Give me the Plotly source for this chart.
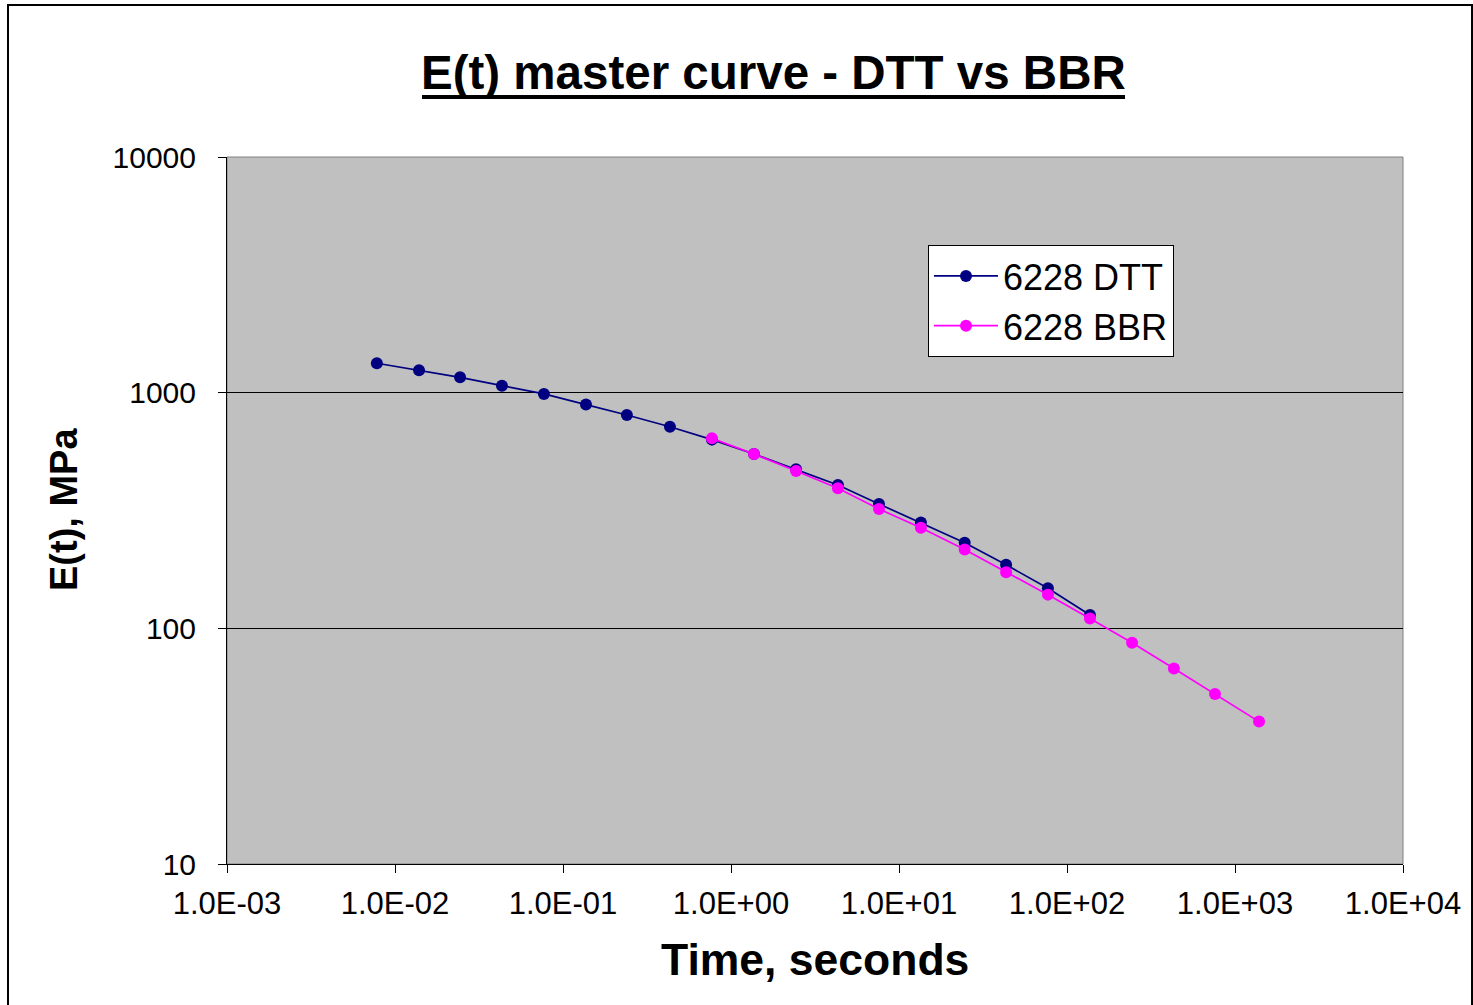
import plotly.graph_objects as go

# Data
dtt_time = [0.0078, 0.0139, 0.0244, 0.0433, 0.077, 0.137, 0.240, 0.433, 0.77,
            1.37, 2.44, 4.33, 7.6, 13.5, 24.6, 43.4, 77, 137]
dtt_E = [1333, 1245, 1162, 1071, 988, 890, 804, 717, 632,
         549, 473, 406, 337, 281, 231, 186, 148, 114]

bbr_time = [0.77, 1.37, 2.44, 4.33, 7.6, 13.5, 24.6, 43.4, 77, 137,
            244, 433, 760, 1390]
bbr_E = [640, 549, 465, 393, 321, 267, 216, 173, 139, 110,
         86.9, 67.6, 52.6, 40.2]

x_tickvals = [1e-3, 1e-2, 1e-1, 1e0, 1e1, 1e2, 1e3, 1e4]
x_ticktext = ["1.0E-03", "1.0E-02", "1.0E-01", "1.0E+00", "1.0E+01",
              "1.0E+02", "1.0E+03", "1.0E+04"]
y_tickvals = [10, 100, 1000, 10000]
y_ticktext = ["10", "100", "1000", "10000"]

FONT = "Liberation Sans, Arial, sans-serif"

fig = go.Figure()
fig.add_trace(go.Scatter(
    x=dtt_time, y=dtt_E, name="6228 DTT", mode="lines+markers",
    line=dict(color="#000080", width=1.7),
    marker=dict(color="#000080", size=12)))
fig.add_trace(go.Scatter(
    x=bbr_time, y=bbr_E, name="6228 BBR", mode="lines+markers",
    line=dict(color="#FF00FF", width=1.7),
    marker=dict(color="#FF00FF", size=12)))

W, H = 1473, 1005
L, R, T, B = 227, 70, 157, 141
pw, ph = W - L - R, H - T - B


def px(x):
    return (x - L) / pw


def py(y):
    return (H - B - y) / ph


fig.update_layout(
    width=W, height=H,
    margin=dict(l=L, r=R, t=T, b=B, pad=0),
    paper_bgcolor="white",
    plot_bgcolor="#C0C0C0",
    font=dict(family=FONT, color="black"),
    showlegend=True,
    legend=dict(
        x=px(928), y=py(245), xanchor="left", yanchor="top",
        bgcolor="white", bordercolor="black", borderwidth=1,
        font=dict(size=36, family=FONT),
        itemwidth=64, tracegroupgap=0,
    ),
    xaxis=dict(
        type="log", range=[-3, 4],
        tickmode="array", tickvals=x_tickvals, ticktext=x_ticktext,
        ticks="outside", ticklen=8, tickcolor="black", tickwidth=1,
        tickfont=dict(size=31, family=FONT),
        showline=True, linecolor="black", linewidth=1,
        showgrid=False, zeroline=False, ticklabelstandoff=4,
    ),
    yaxis=dict(
        type="log", range=[1, 4],
        tickmode="array", tickvals=y_tickvals, ticktext=y_ticktext,
        ticks="outside", ticklen=8, tickcolor="black", tickwidth=1,
        tickfont=dict(size=30, family=FONT),
        showline=True, linecolor="black", linewidth=1,
        showgrid=True, gridcolor="black", gridwidth=1, zeroline=False,
        ticklabelstandoff=16,
    ),
    shapes=[
        # plot area border (gray)
        dict(type="rect", xref="paper", yref="paper", x0=0, y0=0, x1=1, y1=1,
             line=dict(color="#808080", width=1), layer="below"),
        # outer chart border
        dict(type="rect", xref="paper", yref="paper",
             x0=px(8), x1=px(1472), y0=py(1012), y1=py(5),
             line=dict(color="black", width=2)),
        # title underline
        dict(type="line", xref="paper", yref="paper",
             x0=px(422), x1=px(1125), y0=py(97), y1=py(97),
             line=dict(color="black", width=4)),
    ],
    annotations=[
        dict(text="<b>E(t) master curve - DTT vs BBR</b>", xref="paper", yref="paper",
             x=px(773.5), y=py(73), xanchor="center", yanchor="middle",
             showarrow=False, font=dict(size=47.5, family=FONT)),
        dict(text="<b>Time, seconds</b>", xref="paper", yref="paper",
             x=px(815), y=py(959), xanchor="center", yanchor="middle",
             showarrow=False, font=dict(size=44.5, family=FONT)),
        dict(text="<b>E(t), MPa</b>", xref="paper", yref="paper",
             x=px(64), y=py(510), xanchor="center", yanchor="middle",
             textangle=-90, showarrow=False, font=dict(size=38, family=FONT)),
    ],
)

fig.write_html("out.html")
